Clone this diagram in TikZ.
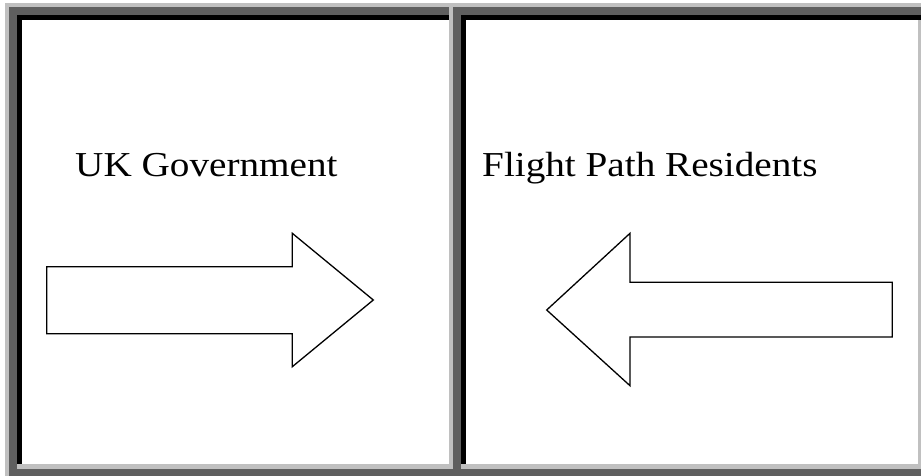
\documentclass[tikz,border=0pt]{standalone}
\usepackage{fontspec}
\newfontfamily\lblfont[FakeStretch=1.12]{Liberation Serif}
\definecolor{bevellight}{HTML}{C0C0C0}
\definecolor{beveldark}{HTML}{5F5F5F}
\tikzset{
  celltext/.style={anchor=base west, inner sep=0pt, font=\lblfont\fontsize{35}{40}\selectfont},
  blockarrow/.style={draw=black, line width=1.3pt, fill=white, line join=miter},
}
\begin{document}
\begin{tikzpicture}[x=1pt, y=-1pt]
\useasboundingbox (0,0) rectangle (921,476);
\fill[white] (0,0) rectangle (921,476);

% outer table frame (raised)
\fill[bevellight] (5,3) rectangle (921,476);
\fill[beveldark] (9,469) rectangle (921,476);

% left cell (sunken)
\fill[bevellight] (9,7) rectangle (453,469);
\fill[beveldark] (9,7) rectangle (449,15);
\fill[beveldark] (9,7) rectangle (17,476);
\fill[black] (17,15) rectangle (449,20);
\fill[black] (17,15) rectangle (22,464);
\fill[white] (22,20) rectangle (449,464);

% right cell (sunken)
\fill[bevellight] (453,7) rectangle (921,469);
\fill[beveldark] (453,7) rectangle (921,15);
\fill[beveldark] (453,7) rectangle (461,476);
\fill[black] (461,15) rectangle (921,20);
\fill[black] (461,15) rectangle (466,464);
\fill[white] (466,20) rectangle (918,464);

% cell labels
\node[celltext] (gov) at (75,176.7) {UK Government};
\node[celltext] (res) at (482,176.7) {Flight Path Residents};

% block arrow pointing right
\draw[blockarrow] (46.7,266.7) -- (292.3,266.7) -- (292.3,233.3) -- (373.3,300)
  -- (292.3,366.7) -- (292.3,333.7) -- (46.7,333.7) -- cycle;

% block arrow pointing left
\draw[blockarrow] (892.3,282.3) -- (630,282.3) -- (630,233.3) -- (546.7,310)
  -- (630,385.7) -- (630,337) -- (892.3,337) -- cycle;
\end{tikzpicture}
\end{document}
